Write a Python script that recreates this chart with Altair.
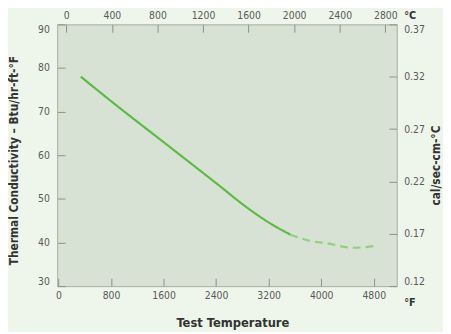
import altair as alt
import pandas as pd

# Thermal conductivity (Btu/hr-ft-°F) vs test temperature (°F)
solid_f = [340, 800, 1600, 2400, 2880, 3200, 3530]
solid_k = [78.0, 72.4, 63.0, 53.6, 47.9, 44.6, 41.8]
dash_f = [3530, 3850, 4100, 4350, 4500, 4850]
dash_k = [41.8, 40.3, 39.8, 39.0, 38.8, 39.3]

f_ticks = [0, 800, 1600, 2400, 3200, 4000, 4800]
c_ticks = [0, 400, 800, 1200, 1600, 2000, 2400, 2800]
k_ticks = [30, 40, 50, 60, 70, 80, 90]
cal_ticks = [0.12, 0.17, 0.22, 0.27, 0.32, 0.37]

FONT = "Liberation Sans Narrow, DejaVu Sans Condensed, Roboto, sans-serif"
LBL = "#5a5a5a"
TTL = "#333333"
TICK = "#8d918b"

df = pd.DataFrame({
    "f": solid_f + dash_f,
    "k": solid_k + dash_k,
    "seg": ["solid"] * len(solid_f) + ["dashed"] * len(dash_f),
})
sec = pd.DataFrame({"c": [c_ticks[0], c_ticks[-1]], "cal": [cal_ticks[0], cal_ticks[-1]]})

common = dict(labelFont=FONT, labelFontSize=10.5, labelColor=LBL, tickColor=TICK,
              tickSize=8, offset=-8, domain=False, grid=False, titleFont=FONT,
              titleColor=TTL)

main = alt.Chart(df).mark_line(strokeWidth=2.2, interpolate="monotone").encode(
    x=alt.X("f:Q", scale=alt.Scale(domain=[-20, 5150], nice=False, zero=False),
            axis=alt.Axis(orient="bottom", values=f_ticks, format="d", labelPadding=5,
                          title="°F", titleAngle=0, titleX=352, titleY=25,
                          titleAlign="left", titleBaseline="middle",
                          titleFontSize=11, titleFontWeight="bold", **common)),
    y=alt.Y("k:Q", scale=alt.Scale(domain=[30, 90], nice=False, zero=False),
            axis=alt.Axis(orient="left", values=k_ticks, labelPadding=8, labelFlush=True,
                          title="Thermal Conductivity – Btu/hr-ft-°F", titleAngle=270,
                          titleX=-57, titleY=138, titleAlign="center", titleBaseline="top",
                          titleFontSize=12, titleFontWeight="bold", **common)),
    color=alt.Color("seg:N", scale=alt.Scale(domain=["solid", "dashed"],
                                             range=["#5cbb47", "#8fd17f"]), legend=None),
    strokeDash=alt.StrokeDash("seg:N", scale=alt.Scale(domain=["solid", "dashed"],
                                                       range=[[1, 0], [8, 5]]), legend=None),
)

hidden = alt.Chart(sec).mark_point(opacity=0).encode(
    x=alt.X("c:Q", scale=alt.Scale(domain=[-80, 2900], nice=False, zero=False),
            axis=alt.Axis(orient="top", values=c_ticks, format="d", labelPadding=4,
                          title="°C", titleAngle=0, titleX=352, titleY=-17,
                          titleAlign="left", titleBaseline="middle",
                          titleFontSize=11, titleFontWeight="bold", **common)),
    y=alt.Y("cal:Q", scale=alt.Scale(domain=[0.12, 0.37], nice=False, zero=False),
            axis=alt.Axis(orient="right", values=cal_ticks, format=".2f", labelPadding=7,
                          labelFlush=True, title="cal/sec-cm-°C", titleAngle=270,
                          titleX=42, titleY=143, titleAlign="center", titleBaseline="top",
                          titleFontSize=12, titleFontWeight="bold", **common)),
)

chart = alt.layer(main, hidden).resolve_scale(x="independent", y="independent").properties(
    width=345, height=266,
    autosize=alt.AutoSizeParams(type="none"),
    padding={"left": 50, "top": 14, "right": 47, "bottom": 44},
    background="#eef5ea",
    title=alt.TitleParams("Test Temperature", orient="bottom", font=FONT, fontSize=13,
                          fontWeight="bold", color=TTL, offset=10, dx=6),
).configure_view(fill="#d8e2d4", stroke="#a7aba5", strokeWidth=1)

chart.save("out.html", embed_options={"renderer": "svg", "actions": False})
